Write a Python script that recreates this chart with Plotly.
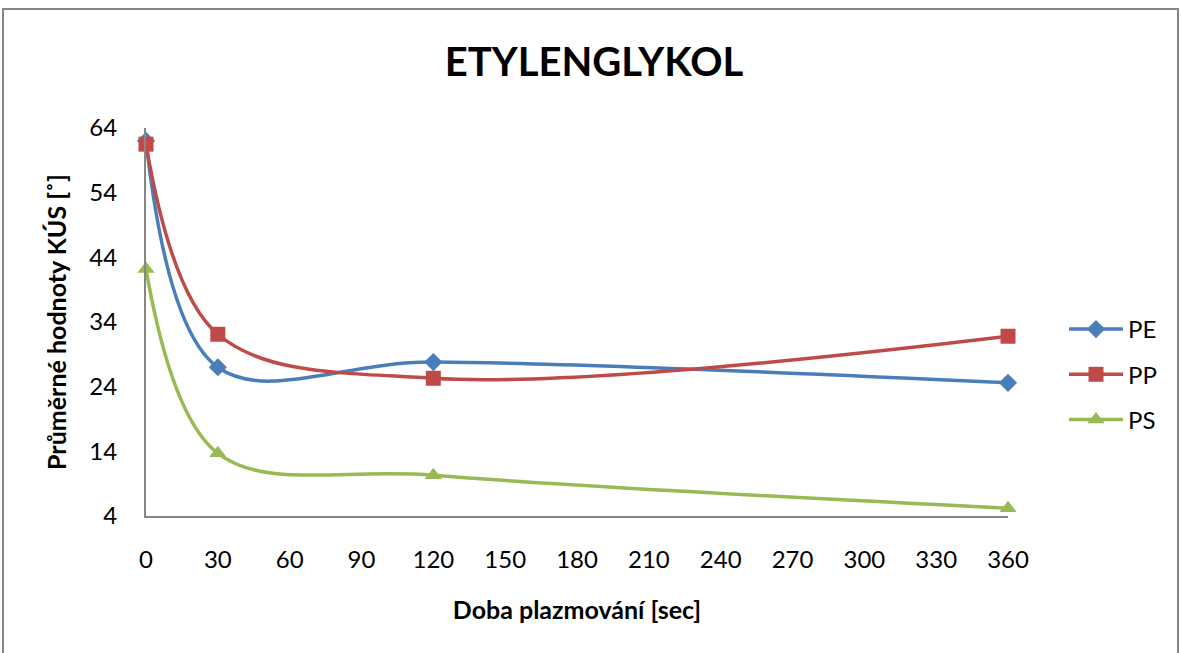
import plotly.graph_objects as go

# Plasma treatment time [s]
time_s = [0, 30, 120, 360]

# Mean contact angle values [°] per polymer
pe_values = [62.0, 27.0, 27.8, 24.6]
pp_values = [61.5, 32.1, 25.3, 31.8]
ps_values = [42.2, 13.7, 10.3, 5.2]

series_names = ["PE", "PP", "PS"]
x_ticks = [0, 30, 60, 90, 120, 150, 180, 210, 240, 270, 300, 330, 360]
y_ticks = [4, 14, 24, 34, 44, 54, 64]

colors = {"PE": "#4A7EBB", "PP": "#BE4B48", "PS": "#98B954"}
symbols = {"PE": "diamond", "PP": "square", "PS": "triangle-up"}
sizes = {"PE": 14, "PP": 15, "PS": 15}

FONT = "Lato, 'Open Sans', sans-serif"

fig = go.Figure()
for name, vals in zip(series_names, [pe_values, pp_values, ps_values]):
    fig.add_trace(go.Scatter(
        x=time_s, y=vals, name=name, mode="lines+markers",
        line=dict(color=colors[name], width=3.5, shape="spline", smoothing=1.0),
        marker=dict(symbol=symbols[name], size=sizes[name], color=colors[name]),
        cliponaxis=False, legendgroup=name,
    ))

W, H = 1181, 653
L, R, T, B = 146, 173, 128, 137
pw, ph = W - L - R, H - T - B

def px_to_paper_x(px):
    return (px - L) / pw

def px_to_paper_y(py):
    return (H - B - py) / ph

fig.update_layout(
    width=W, height=H,
    margin=dict(l=L, r=R, t=T, b=B),
    paper_bgcolor="white", plot_bgcolor="white",
    font=dict(family=FONT, color="#000000", size=24),
    title=dict(text="<b>ETYLENGLYKOL</b>", x=0.503, xanchor="center",
               y=1 - 62 / H, yanchor="middle",
               font=dict(size=40, family=FONT)),
    xaxis=dict(range=[0, 360], tickvals=x_ticks, showgrid=False, zeroline=False,
               showline=True, linecolor="#868686", linewidth=2,
               ticks="outside", ticklen=21, tickcolor="rgba(0,0,0,0)",
               tickfont=dict(size=24),
               title=dict(text="<b>Doba plazmování [sec]</b>", font=dict(size=25), standoff=30)),
    yaxis=dict(range=[4, 64], tickvals=y_ticks, showgrid=False, zeroline=False,
               showline=True, linecolor="#868686", linewidth=2,
               ticks="outside", ticklen=22, tickcolor="rgba(0,0,0,0)",
               tickfont=dict(size=24),
               title=dict(text="<b>Průměrné hodnoty KÚS [˚]</b>", font=dict(size=25), standoff=16)),
    legend=dict(x=px_to_paper_x(1064), y=px_to_paper_y(307), xanchor="left", yanchor="top",
                font=dict(size=24), tracegroupgap=11, itemwidth=54,
                bgcolor="rgba(0,0,0,0)"),
    showlegend=True,
)

# Chart-area frame
fig.add_shape(type="rect", xref="paper", yref="paper",
              x0=px_to_paper_x(3), x1=px_to_paper_x(1178),
              y0=px_to_paper_y(670), y1=px_to_paper_y(9),
              line=dict(color="#868686", width=2), fillcolor="rgba(0,0,0,0)", layer="below")

fig.write_html("out.html")
